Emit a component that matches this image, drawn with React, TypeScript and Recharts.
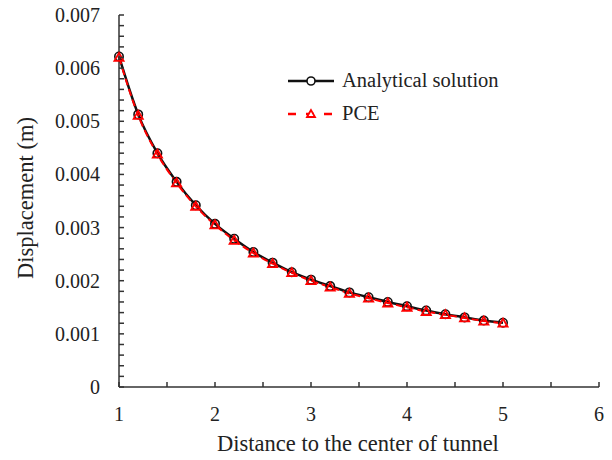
import { LineChart, Line, XAxis, YAxis, Legend } from 'recharts';

// distance to the tunnel centre (x) and displacement in metres (y)
const distance = [1, 1.2, 1.4, 1.6, 1.8, 2, 2.2, 2.4, 2.6, 2.8, 3, 3.2, 3.4, 3.6, 3.8, 4, 4.2, 4.4, 4.6, 4.8, 5];
const analytical = [
  0.00622, 0.00513, 0.0044, 0.00386, 0.00342, 0.00307, 0.00279, 0.00254, 0.00234, 0.00216, 0.00202,
  0.0019, 0.00178, 0.00169, 0.0016, 0.00152, 0.00144, 0.00137, 0.00131, 0.00125, 0.00121,
];
const pce = [
  0.0062, 0.00511, 0.00438, 0.00384, 0.0034, 0.00305, 0.00276, 0.00252, 0.00232, 0.00215, 0.002,
  0.00188, 0.00176, 0.00167, 0.00158, 0.0015, 0.00142, 0.00136, 0.0013, 0.00124, 0.0012,
];

const xTicks = [1, 1.5, 2, 2.5, 3, 3.5, 4, 4.5, 5, 5.5, 6];
const yTicks = [
  0, 0.0002, 0.0004, 0.0006, 0.0008, 0.001, 0.0012, 0.0014, 0.0016, 0.0018, 0.002, 0.0022, 0.0024,
  0.0026, 0.0028, 0.003, 0.0032, 0.0034, 0.0036, 0.0038, 0.004, 0.0042, 0.0044, 0.0046, 0.0048, 0.005,
  0.0052, 0.0054, 0.0056, 0.0058, 0.006, 0.0062, 0.0064, 0.0066, 0.0068, 0.007,
];

const data = distance.map((d, i) => ({ d, analytical: analytical[i], pce: pce[i] }));

const FONT = '"Liberation Serif", "Times New Roman", serif';
const AXIS = '#333';
const TEXT = '#222';

const isMajorY = (v: number) => Math.abs(v * 1000 - Math.round(v * 1000)) < 1e-6;

const YTick = (props: any) => {
  const { x, y, payload } = props;
  const v = payload.value;
  const major = isMajorY(v);
  return (
    <g>
      <line x1={x} x2={x + 5} y1={y} y2={y} stroke={AXIS} strokeWidth={1.5} />
      {major && (
        <text x={x - 19} y={y} dy="0.35em" textAnchor="end" fontFamily={FONT} fontSize={20} fill={TEXT}>
          {v === 0 ? '0' : v.toFixed(3)}
        </text>
      )}
    </g>
  );
};

const XTick = (props: any) => {
  const { x, y, payload } = props;
  const v = payload.value;
  const major = Number.isInteger(v);
  return (
    <g>
      <line x1={x} x2={x} y1={y} y2={y - 5} stroke={AXIS} strokeWidth={1.5} />
      {major && (
        <text x={x} y={y + 27} dy="0.35em" textAnchor="middle" fontFamily={FONT} fontSize={20} fill={TEXT}>
          {v}
        </text>
      )}
    </g>
  );
};

const CircleDot = (props: any) => {
  const { cx, cy, index } = props;
  return <circle key={`c-${index}`} cx={cx} cy={cy} r={4.2} fill="none" stroke="#111" strokeWidth={1.6} />;
};

const TriangleDot = (props: any) => {
  const { cx, cy, index } = props;
  const s = 4.6;
  const pts = `${cx},${cy - s} ${cx - s},${cy + s * 0.75} ${cx + s},${cy + s * 0.75}`;
  return <polygon key={`t-${index}`} points={pts} fill="none" stroke="#ff0000" strokeWidth={1.8} />;
};

const renderLegend = () => (
  <div style={{ fontFamily: FONT, fontSize: 20.5, color: TEXT, lineHeight: 1 }}>
    <div style={{ display: 'flex', alignItems: 'center', height: 33 }}>
      <svg width={48} height={14} style={{ marginRight: 7 }}>
        <line x1={1} x2={47} y1={7} y2={7} stroke="#111" strokeWidth={2.5} />
        <circle cx={24} cy={7} r={4} fill="#fff" stroke="#111" strokeWidth={1.6} />
      </svg>
      Analytical solution
    </div>
    <div style={{ display: 'flex', alignItems: 'center', height: 33 }}>
      <svg width={48} height={14} style={{ marginRight: 7 }}>
        <line x1={1} x2={47} y1={7} y2={7} stroke="#ff0000" strokeWidth={2.5} strokeDasharray="8 10" />
        <polygon points="24,3 20,10 28,10" fill="#fff" stroke="#ff0000" strokeWidth={1.8} />
      </svg>
      PCE
    </div>
  </div>
);

export default function App() {
  return (
    <div style={{ position: 'absolute', left: 0, top: 0, width: 612, height: 460, background: '#fff' }}>
      <LineChart width={612} height={460} data={data} margin={{ top: 15, right: 13, bottom: 0, left: 0 }}>
        <XAxis
          dataKey="d"
          type="number"
          domain={[1, 6]}
          ticks={xTicks}
          interval={0}
          height={73}
          tickSize={0}
          tickMargin={0}
          tickLine={false}
          tick={<XTick />}
          axisLine={{ stroke: AXIS, strokeWidth: 1.5 }}
          label={{
            content: () => (
              <text x={358} y={443} dy="0.35em" textAnchor="middle" fontFamily={FONT} fontSize={22.5} fill={TEXT}>
                Distance to the center of tunnel
              </text>
            ),
          }}
        />
        <YAxis
          type="number"
          domain={[0, 0.007]}
          ticks={yTicks}
          interval={0}
          width={119}
          tickSize={0}
          tickMargin={0}
          tickLine={false}
          tick={<YTick />}
          axisLine={{ stroke: AXIS, strokeWidth: 1.5 }}
          label={{
            content: () => (
              <text
                x={25}
                y={198}
                dy="0.35em"
                textAnchor="middle"
                transform="rotate(-90 25 198)"
                fontFamily={FONT}
                fontSize={22.5}
                fill={TEXT}
              >
                Displacement (m)
              </text>
            ),
          }}
        />
        <Legend
          layout="horizontal"
          align="center"
          verticalAlign="middle"
          content={renderLegend}
          wrapperStyle={{ left: 287, top: 64, width: 260 }}
        />
        <Line
          type="monotone"
          dataKey="analytical"
          name="Analytical solution"
          stroke="#111"
          strokeWidth={2.5}
          dot={<CircleDot />}
          isAnimationActive={false}
        />
        <Line
          type="monotone"
          dataKey="pce"
          name="PCE"
          stroke="#ff0000"
          strokeWidth={2}
          strokeDasharray="7 4"
          dot={<TriangleDot />}
          isAnimationActive={false}
        />
      </LineChart>
    </div>
  );
}
